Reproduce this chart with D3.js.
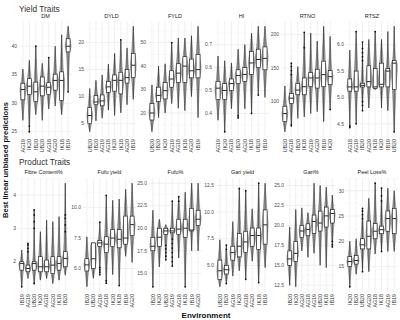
<!DOCTYPE html>
<html>
<head>
<meta charset="utf-8">
<script src="https://cdn.jsdelivr.net/npm/d3@7"></script>
<style>
  body { margin: 0; background: #fff; }
  text { font-family: "Liberation Sans", Arial, sans-serif; }
</style>
</head>
<body>
<div id="chart"></div>
<script>
// box stats per environment: [min, q1, median, q3, max]
const dmEnv = ["AG19", "IK20", "IB20", "UB20", "AG18", "AG20", "IK18", "IB19"];
const dmBox = [[27, 30.6, 32.4, 33.5, 36], [25, 31.5, 33, 34.3, 37.5], [28, 30.3, 32, 33.7, 40], [27, 31.3, 33, 34.6, 37],
               [29, 31.5, 32.8, 33.6, 38], [29.5, 32.3, 34, 35.1, 40], [28, 30.5, 34, 35.5, 42], [32, 39, 40, 41.3, 43.5]];
const dmOut = [[1, 25], [1, 26], [2, 40], [4, 38], [7, 32]];

const dyldEnv = ["UB20", "IB20", "AG19", "AG18", "IK20", "IK18", "AG20", "IB19"];
const dyldBox = [[3.5, 5, 6.5, 8, 11.5], [5.5, 8.5, 9, 10.2, 13], [6, 8.3, 9.2, 10.3, 14], [7.5, 10.8, 11.8, 12.8, 16],
                 [6.5, 11, 13, 14, 18], [7, 10.5, 13, 14.5, 20.5], [8.5, 12.5, 13.5, 15, 19], [9.5, 13.5, 15.8, 18, 23]];
const dyldOut = [[5, 20.5]];

const fyldEnv = ["UB20", "IB20", "IK20", "AG19", "AG18", "IK18", "AG20", "IB19"];
const fyldBox = [[12, 17, 20, 24, 32], [18, 25, 27.5, 31, 40], [20, 26, 29.5, 33, 41], [24, 31, 34.5, 38, 50],
                 [22, 33, 37, 41, 52], [21, 33, 40, 44, 52], [27, 35, 38, 43, 53], [18, 35, 38.5, 45, 57]];
const fyldOut = [[3, 50]];

const hiEnv = ["AG19", "IK20", "AG18", "IB20", "AG20", "IK18", "UB20", "IB19"];
const hiBox = [[0.37, 0.46, 0.51, 0.54, 0.65], [0.32, 0.46, 0.5, 0.53, 0.63], [0.42, 0.5, 0.53, 0.55, 0.62], [0.38, 0.53, 0.565, 0.59, 0.68],
               [0.42, 0.54, 0.57, 0.6, 0.7], [0.4, 0.57, 0.62, 0.67, 0.75], [0.48, 0.6, 0.635, 0.68, 0.78], [0.47, 0.59, 0.64, 0.69, 0.78]];
const hiOut = [[1, 0.32], [3, 0.38], [3, 0.39], [5, 0.4], [6, 0.48]];

const rtnoEnv = ["UB20", "AG18", "IB20", "IK18", "AG19", "AG20", "IB19", "IK20"];
const rtnoBox = [[55, 70, 82, 93, 123], [62, 97, 105, 112, 157], [75, 110, 117, 127, 152], [77, 110, 122, 135, 203],
                 [82, 122, 135, 143, 202], [85, 120, 135, 148, 190], [70, 122, 140, 160, 212], [88, 125, 137, 146, 197]];
const rtnoOut = [[1, 140], [1, 146], [1, 152], [1, 157], [1, 65], [3, 180], [3, 203], [7, 88]];

const rtszEnv = ["AG18", "AG19", "IB20", "AG20", "IK18", "IK20", "IB19", "UB20"];
const rtszBox = [[4.43, 5.12, 5.2, 5.35, 5.9], [4.5, 5.12, 5.2, 5.5, 6.25], [4.75, 5.2, 5.23, 5.27, 6.05], [4.8, 5.2, 5.3, 5.6, 6.1],
                 [5.15, 5.17, 5.2, 5.55, 6.25], [4.8, 5.2, 5.25, 5.65, 6.1], [4.75, 5.2, 5.5, 5.55, 6.25], [4.35, 5.15, 5.65, 5.7, 6.35]];
const rtszOut = [[0, 4.43], [0, 4.46], [1, 4.5], [1, 6.25], [2, 5.7], [2, 5.77], [2, 5.85], [2, 5.93], [2, 6.05], [2, 4.75], [2, 4.85], [2, 4.92],
                 [4, 6.25], [7, 4.35]];

const fibreEnv = ["IB19", "AG19", "UB20", "IK20", "AG18", "AG20", "IK18", "IB20"];
const fibreBox = [[1.25, 1.75, 1.95, 2.0, 2.35], [1.5, 1.7, 1.8, 1.9, 2.55], [1.35, 1.75, 1.95, 2.0, 3.55], [1.45, 1.7, 1.85, 2.15, 2.9],
                  [1.5, 1.7, 1.85, 2.05, 3.25], [1.35, 1.65, 1.9, 2.15, 3.2], [1.45, 1.75, 1.95, 2.15, 3.35], [1.6, 1.85, 2.1, 2.3, 4.35]];
const fibreOut = [[0, 1.25], [1, 2.3], [1, 2.4], [1, 2.5], [1, 2.55], [2, 3.0], [2, 3.2], [2, 3.4], [2, 3.55], [2, 1.35],
                  [7, 2.9], [7, 3.1], [7, 3.3], [7, 3.4]];

const fufuyEnv = ["IB20", "UB20", "AG19", "AG18", "IK20", "IK18", "IB19", "AG20"];
const fufuyBox = [[3.5, 4.8, 5.3, 5.8, 7.6], [4.2, 5.0, 5.8, 7.1, 7.1], [4.5, 6.8, 7.1, 7.3, 8.8], [3.8, 6.3, 7.0, 7.6, 11.0],
                  [4.5, 6.8, 7.5, 8.2, 10.6], [3.6, 6.7, 7.4, 8.2, 10.7], [6.0, 7.0, 7.5, 9.3, 11.5], [5.5, 7.7, 8.6, 9.3, 12]];
const fufuyOut = [[2, 4.5], [2, 4.7], [2, 4.9], [2, 5.1], [2, 8.8], [3, 3.8], [3, 4.0], [3, 11.0], [5, 3.6]];

const fufupEnv = ["IB20", "IK20", "UB20", "AG19", "AG18", "IK18", "IB19", "AG20"];
const fufupBox = [[13.5, 17.5, 18, 19, 22], [15.7, 18, 19, 20, 21], [16.5, 19.3, 19.7, 20, 20.4], [15.8, 19.5, 19.7, 20, 23],
                  [16.7, 19.3, 19.9, 21, 23.5], [13.5, 19, 20, 21, 24], [17.5, 19.7, 19.8, 22.2, 25], [17.5, 20.3, 21, 22, 25]];
const fufupOut = [[0, 13.5], [2, 16.5], [2, 16.9], [2, 17.3], [2, 17.7], [2, 18.1], [3, 15.8], [3, 16.3], [3, 16.8], [3, 17.3],
                  [3, 17.8], [3, 18.3], [3, 18.8], [3, 23], [4, 23.5], [4, 23], [5, 13.5]];

const gariyEnv = ["UB20", "IB20", "AG19", "IK20", "AG18", "AG20", "IK18", "IB19"];
const gariyBox = [[3.0, 3.7, 4.5, 5.5, 7.4], [3.3, 4.2, 4.6, 5.0, 6.9], [4.0, 5.5, 6.2, 6.8, 9.1], [4.5, 5.8, 6.8, 8.0, 12.2],
                  [3.7, 6.2, 7.2, 8.2, 12.0], [5.4, 6.8, 7.8, 8.5, 10.3], [3.4, 6.5, 7.8, 8.5, 12.7], [4.8, 7.0, 8.8, 10.2, 12.7]];
const gariyOut = [[1, 6.9], [1, 6.5], [1, 3.3], [3, 12.2], [4, 12.0], [4, 3.7], [6, 12.7], [6, 3.4]];

const garipEnv = ["IB20", "IK20", "AG20", "AG18", "AG19", "UB20", "IK18", "IB19"];
const garipBox = [[12.5, 15, 15.8, 16.8, 19.8], [12.3, 15.5, 16.5, 18, 22], [16.8, 18.5, 19.3, 20, 22.2], [16, 18.7, 19.5, 20.2, 21.6],
                  [16.5, 19, 20.5, 21.3, 25.3], [15, 19.3, 20.3, 21.8, 25], [14.7, 19.8, 21.2, 22.3, 24.8], [17.3, 20.3, 21.5, 22, 23.8]];
const garipOut = [[7, 17.3], [7, 17.6], [7, 18]];

const peelEnv = ["IK20", "IB20", "UB20", "AG20", "AG18", "IK18", "AG19", "IB19"];
const peelBox = [[11, 15, 16, 17, 20], [13.5, 15.5, 16.2, 17.2, 20.5], [14, 18.5, 19.3, 20.5, 26.5], [14, 18.5, 21, 24, 28.5],
                 [17.5, 20.5, 22, 23.5, 31.5], [18, 21.5, 22.3, 23, 30.5], [18, 22, 24.5, 26, 30.5], [18, 21.5, 24.5, 26.5, 30]];
const peelOut = [[0, 11], [2, 26.5], [2, 26], [2, 25.3], [2, 24.5], [2, 14], [4, 31.5], [5, 30.5], [5, 29], [5, 28], [5, 18]];

const rowTitles = ["Yield Traits", "Product Traits"];

// layout
const width = 400, height = 320;
const rows = [
    { title: rowTitles[0], titleY: 12, stripY: 18, top: 21, bottom: 137 },
    { title: rowTitles[1], titleY: 165, stripY: 174, top: 178, bottom: 292 }
];

const panels = [
    { name: "DM", env: dmEnv, box: dmBox, out: dmOut, ticks: [25, 30, 35, 40], fmt: "d", x: [19, 72], row: 0 },
    { name: "DYLD", env: dyldEnv, box: dyldBox, out: dyldOut, ticks: [5, 10, 15, 20], fmt: "d", x: [86, 137], row: 0 },
    { name: "FYLD", env: fyldEnv, box: fyldBox, out: fyldOut, ticks: [20, 30, 40, 50], fmt: "d", x: [148, 202], row: 0 },
    { name: "HI", env: hiEnv, box: hiBox, out: hiOut, ticks: [0.4, 0.5, 0.6, 0.7], fmt: ".1f", x: [214, 269], row: 0 },
    { name: "RTNO", env: rtnoEnv, box: rtnoBox, out: rtnoOut, ticks: [100, 150, 200], fmt: "d", x: [281, 334], row: 0 },
    { name: "RTSZ", env: rtszEnv, box: rtszBox, out: rtszOut, ticks: [4.5, 5.0, 5.5, 6.0], fmt: ".1f", x: [346, 398], row: 0 },
    { name: "Fibre Content%", env: fibreEnv, box: fibreBox, out: fibreOut, ticks: [2, 3, 4], fmt: "d", x: [18, 69], row: 1 },
    { name: "Fufu yield", env: fufuyEnv, box: fufuyBox, out: fufuyOut, ticks: [5, 7.5, 10], fmt: ".1f", x: [83, 136], row: 1 },
    { name: "Fufu%", env: fufupEnv, box: fufupBox, out: fufupOut, ticks: [15, 17.5, 20, 22.5, 25], fmt: ".1f", x: [149, 202], row: 1 },
    { name: "Gari yield", env: gariyEnv, box: gariyBox, out: gariyOut, ticks: [5, 7.5, 10, 12.5], fmt: ".1f", x: [216, 269], row: 1 },
    { name: "Gari%", env: garipEnv, box: garipBox, out: garipOut, ticks: [12.5, 15, 17.5, 20, 22.5, 25], fmt: ".1f", x: [286, 336], row: 1 },
    { name: "Peel Loss%", env: peelEnv, box: peelBox, out: peelOut, ticks: [15, 20, 25, 30], fmt: "d", x: [346, 398], row: 1 }
];

const svg = d3.select("#chart").append("svg")
    .attr("width", width)
    .attr("height", height);

svg.append("rect").attr("width", width).attr("height", height).attr("fill", "#fff");

// row titles
rows.forEach(r => {
    svg.append("text")
        .attr("x", 19).attr("y", r.titleY)
        .attr("font-size", 8.3)
        .attr("fill", "#333")
        .text(r.title);
});

// axis titles
svg.append("text")
    .attr("transform", "translate(8,160) rotate(-90)")
    .attr("text-anchor", "middle")
    .attr("font-size", 7.5)
    .attr("font-weight", "bold")
    .attr("fill", "#111")
    .text("Best linear unbiased predictions");

svg.append("text")
    .attr("x", 206).attr("y", 318)
    .attr("text-anchor", "middle")
    .attr("font-size", 8)
    .attr("font-weight", "bold")
    .attr("fill", "#111")
    .text("Environment");

panels.forEach(p => {
    let r = rows[p.row];
    let g = svg.append("g");

    let x = d3.scalePoint()
        .domain(p.env)
        .range(p.x)
        .padding(0.6);

    let allVals = p.box.flat().concat(p.out.map(d => d[1]));
    let ext = d3.extent(allVals);
    let pad = (ext[1] - ext[0]) * 0.05;
    let y = d3.scaleLinear()
        .domain([ext[0] - pad, ext[1] + pad])
        .range([r.bottom, r.top]);

    // grid: minor then major
    let minor = [];
    for (let i = 0; i < p.ticks.length - 1; i++) minor.push((p.ticks[i] + p.ticks[i + 1]) / 2);
    let step = p.ticks[1] - p.ticks[0];
    minor.push(p.ticks[0] - step / 2, p.ticks[p.ticks.length - 1] + step / 2);
    minor = minor.filter(v => v >= y.domain()[0] && v <= y.domain()[1]);

    g.selectAll(".minor")
        .data(minor)
        .enter().append("line")
        .attr("x1", p.x[0]).attr("x2", p.x[1])
        .attr("y1", d => y(d)).attr("y2", d => y(d))
        .attr("stroke", "#f2f2f2")
        .attr("stroke-width", 0.4);

    g.selectAll(".major")
        .data(p.ticks)
        .enter().append("line")
        .attr("x1", p.x[0]).attr("x2", p.x[1])
        .attr("y1", d => y(d)).attr("y2", d => y(d))
        .attr("stroke", "#e6e6e6")
        .attr("stroke-width", 0.6);

    g.selectAll(".vgrid")
        .data(p.env)
        .enter().append("line")
        .attr("x1", d => x(d)).attr("x2", d => x(d))
        .attr("y1", r.top).attr("y2", r.bottom)
        .attr("stroke", "#e6e6e6")
        .attr("stroke-width", 0.6);

    // strip label
    g.append("text")
        .attr("x", (p.x[0] + p.x[1]) / 2)
        .attr("y", r.stripY)
        .attr("text-anchor", "middle")
        .attr("font-size", 5.5)
        .attr("fill", "#1a1a1a")
        .text(p.name);

    // y tick labels
    let f = d3.format(p.fmt);
    g.selectAll(".ytick")
        .data(p.ticks)
        .enter().append("text")
        .attr("x", p.x[0] - 2)
        .attr("y", d => y(d))
        .attr("dy", "0.35em")
        .attr("text-anchor", "end")
        .attr("font-size", 5)
        .attr("fill", "#4d4d4d")
        .text(d => f(d));

    // x tick labels
    g.selectAll(".xtick")
        .data(p.env)
        .enter().append("text")
        .attr("transform", d => `translate(${x(d)},${r.bottom + 2}) rotate(-90)`)
        .attr("dy", "0.35em")
        .attr("text-anchor", "end")
        .attr("font-size", 5.3)
        .attr("fill", "#333")
        .text(d => d);

    let bw = x.step();

    // violins
    let prof = [0, 0.6, 1, 0.6, 0];
    let violin = d3.area()
        .curve(d3.curveCatmullRom.alpha(0.5))
        .y(d => y(d.v))
        .x0(d => d.cx - d.k * bw * 0.45)
        .x1(d => d.cx + d.k * bw * 0.45);

    p.box.forEach((b, i) => {
        let cx = x(p.env[i]);
        let pts = b.map((v, j) => ({ v: v, k: prof[j], cx: cx }));
        g.append("path")
            .attr("d", violin(pts))
            .attr("fill", "#b5b5b5")
            .attr("stroke", "#5a5a5a")
            .attr("stroke-width", 0.5);
    });

    // boxplots
    p.box.forEach((b, i) => {
        let cx = x(p.env[i]);
        let hw = bw * 0.3;
        g.append("line")
            .attr("x1", cx).attr("x2", cx)
            .attr("y1", y(b[0])).attr("y2", y(b[4]))
            .attr("stroke", "#111")
            .attr("stroke-width", 0.6);
        g.append("rect")
            .attr("x", cx - hw).attr("width", hw * 2)
            .attr("y", y(b[3])).attr("height", Math.max(0.5, y(b[1]) - y(b[3])))
            .attr("fill", "#fff")
            .attr("stroke", "#111")
            .attr("stroke-width", 0.6);
        g.append("line")
            .attr("x1", cx - hw).attr("x2", cx + hw)
            .attr("y1", y(b[2])).attr("y2", y(b[2]))
            .attr("stroke", "#111")
            .attr("stroke-width", 0.9);
    });

    // outliers
    g.selectAll(".out")
        .data(p.out)
        .enter().append("circle")
        .attr("cx", d => x(p.env[d[0]]))
        .attr("cy", d => y(d[1]))
        .attr("r", 0.9)
        .attr("fill", "#111");
});
</script>
</body>
</html>
